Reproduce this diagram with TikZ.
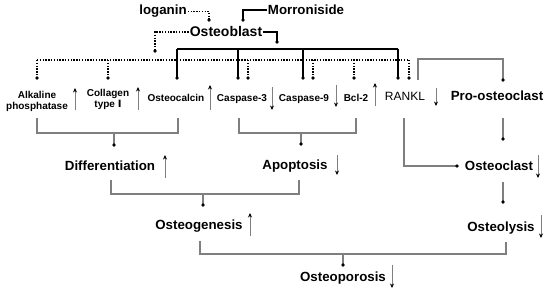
\documentclass[tikz,border=0pt]{standalone}
\usepackage{fontspec}
\setmainfont{Liberation Sans}
\newfontfamily\djv{DejaVu Sans}
\usetikzlibrary{arrows.meta}
\definecolor{lg}{HTML}{7F7F7F}
\tikzset{
  lbl/.style={font=\bfseries\fontsize{10}{11}\selectfont, inner sep=1pt, align=center, anchor=base},
  big/.style={font=\bfseries\fontsize{13.3}{15}\selectfont, inner sep=1pt, anchor=base},
  gl/.style={draw=lg, line width=1.2pt},
  dl/.style={line width=1.6pt, dash pattern=on 1.4pt off 1.4pt},
  sl/.style={line width=1.8pt},
  dot/.style={-{Kite[length=4pt,width=3.5pt,inset=2pt,color=black]}},
  ind/.style={draw=lg, line width=1pt, -{Stealth[length=4.5pt,width=4pt,color=black]}}
}
\begin{document}
\begin{tikzpicture}[x=1pt,y=-1pt]
\useasboundingbox (0,0) rectangle (550,297);
\fill[white] (0,0) rectangle (550,297);

% top nodes
\node[big] (log) at (163,15) {loganin};
\node[big] (mor) at (306,15) {Morroniside};
\node[big, font=\bfseries\fontsize{14}{16}\selectfont] (ob) at (226,37) {Osteoblast};

% row nodes
\node[lbl] (alk) at (37,110) {Alkaline\\phosphatase};
\node[lbl] (col) at (108,107) {Collagen\\type {\djv Ⅰ}};
\node[lbl] (ocn) at (176,101) {Osteocalcin};
\node[lbl] (c3) at (242,101) {Caspase-3};
\node[lbl] (c9) at (304,101) {Caspase-9};
\node[lbl] (bcl) at (356,101) {Bcl-2};
\node[anchor=base, inner sep=1pt, font=\fontsize{12}{14}\selectfont] (rankl) at (405,100) {RANKL};
\node[big] (pro) at (497,100) {Pro-osteoclast};

% lower nodes
\node[big] (diff) at (110,170) {Differentiation};
\node[big] (apo) at (295,169) {Apoptosis};
\node[big] (ocl) at (499,170) {Osteoclast};
\node[big] (ogn) at (199,229) {Osteogenesis};
\node[big] (olys) at (501,231) {Osteolysis};
\node[big] (opor) at (343,281) {Osteoporosis};

% top connectors
\coordinate (logT) at (209,22);
\coordinate (morT) at (243,22);
\coordinate (obS) at (277,44);
\coordinate (obD) at (155,53);
\draw[dl,dot] (log.east) -| (logT);
\draw[sl,dot] (mor.west) -| (morT);
\draw[sl,dot] (ob.east) -| (obS);
\draw[dl,dot] (ob.west) -| (obD);

% buses
\draw[dl] (37,60) -- (409,60);
\draw[sl] (177,49) -- (398,49);
\foreach \x in {177,238,303,398} \draw[sl,dot] (\x,49) -- (\x,80);
\foreach \x in {37,108,248,313,354,409} \draw[dl,dot] (\x,60) -- (\x,80);

% RANKL -> Pro-osteoclast
\draw[gl,dot] (418,80) |- (503,59) -- (503,82);

% indicator arrows
\foreach \x/\a/\b in {75/110/88, 138/110/87, 210/110/85, 272/87/110, 336/85/107, 375/106/83, 436/88/106,
  165/178/155, 337/155/175, 538/155/178, 250/236/213, 541/215/238, 392/265/288}
  \draw[ind] (\x,\a) -- (\x,\b);

% brackets
\draw[gl] (alk |- 0,118) |- (178,133) -- (178,118);
\draw[gl,dot] (114,133) -- (114,147);
\draw[gl] (239,118) |- (356,133) -- (356,118);
\draw[gl,dot] (301,133) -- (301,146);
\draw[gl,dot] (404,118) |- (459,166);
\draw[gl,dot] (503,118) -- (503,141);
\draw[gl] (111,180) |- (299,194) -- (299,180);
\draw[gl,dot] (203,194) -- (203,207);
\draw[gl,dot] (503,182) -- (503,204);
\draw[gl] (200,241) |- (506,254) -- (506,242);
\draw[gl,dot] (343,254) -- (343,267);
\end{tikzpicture}
\end{document}
